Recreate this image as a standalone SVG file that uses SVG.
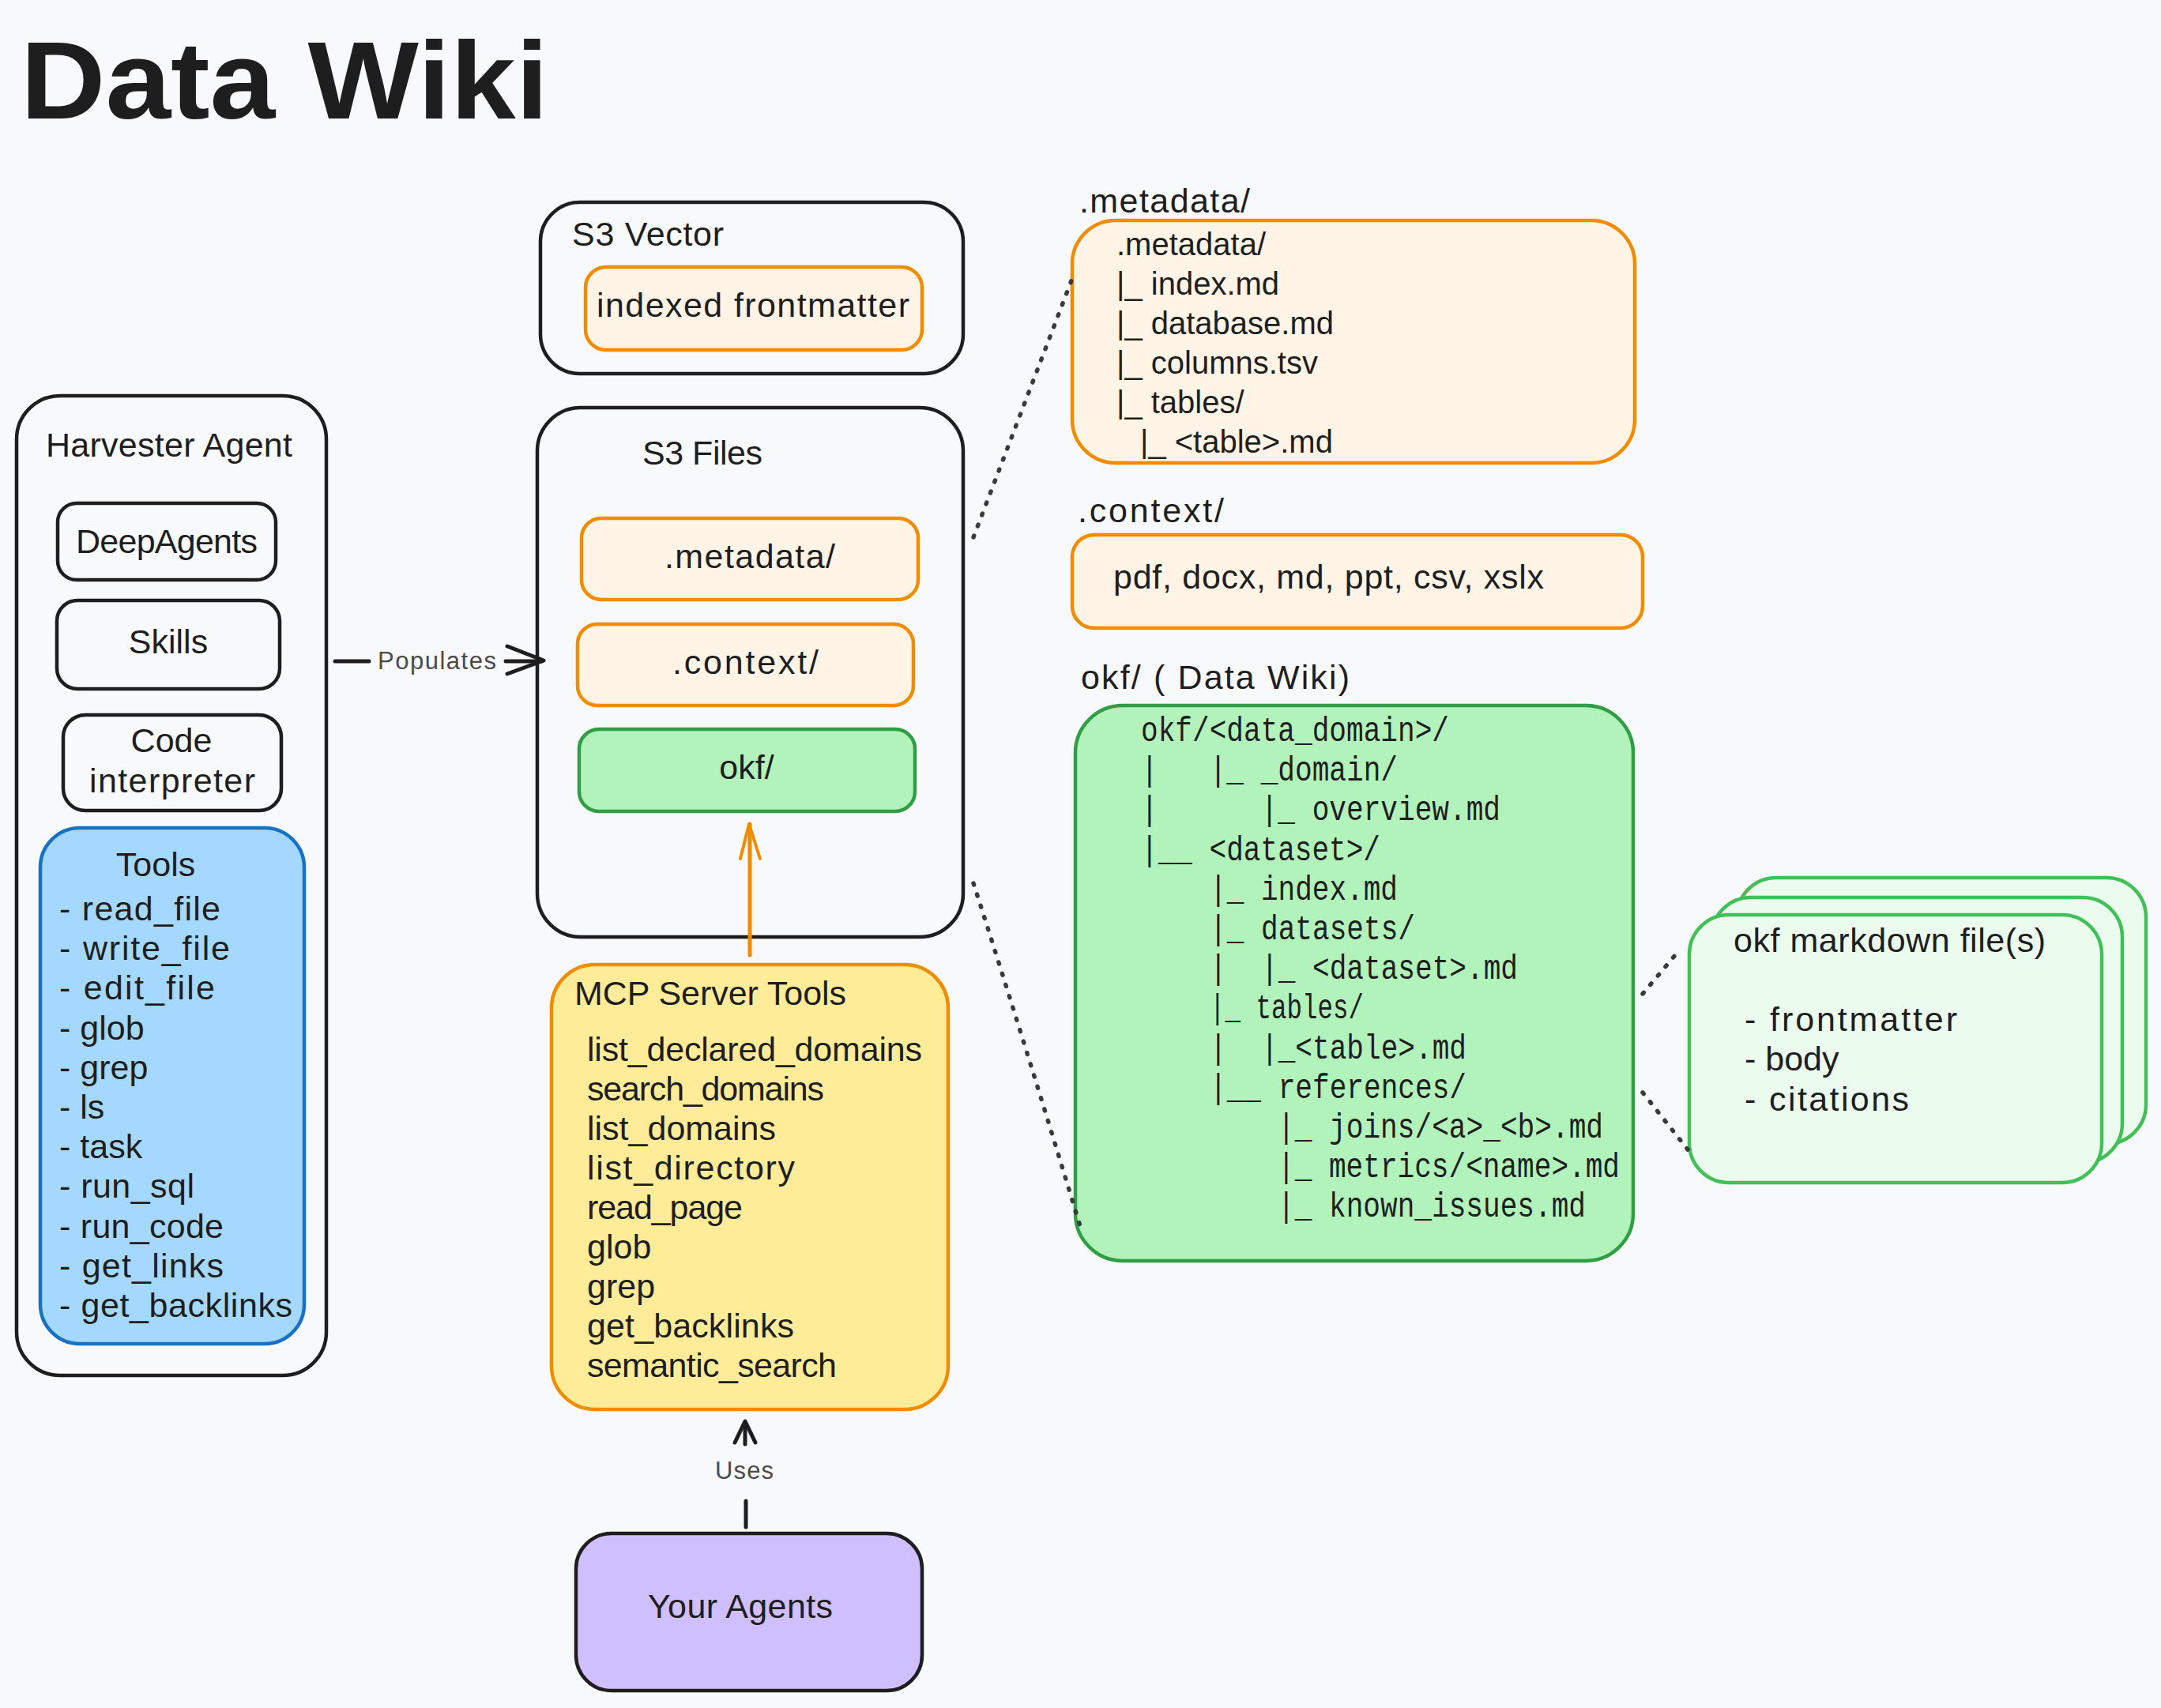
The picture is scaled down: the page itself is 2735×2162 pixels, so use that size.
<svg xmlns="http://www.w3.org/2000/svg" width="2735" height="2162" viewBox="0 0 2735 2162">
<style>
.hw{font-family:"Liberation Sans",Arial,sans-serif;font-size:43px;fill:#1e1e1e}
.lbl{font-family:"Liberation Sans",Arial,sans-serif;font-size:31px;fill:#4a4a4a}
.ns{font-family:"Liberation Sans",Arial,sans-serif;font-size:40px;fill:#1e1e1e}
.mono{font-family:"Liberation Mono","DejaVu Sans Mono",monospace;font-size:44px;fill:#1e1e1e}
.blk{fill:none;stroke:#1e1e1e;stroke-width:4.5}
.org{fill:#fff4e6;stroke:#f08c00;stroke-width:4.5}
.grn{fill:#b2f2bb;stroke:#2f9e44;stroke-width:4.5}
.lgrn{fill:#ebfbee;stroke:#40c057;stroke-width:4.5}
.dot{fill:none;stroke:#3a3a3a;stroke-width:5.5;stroke-linecap:round;stroke-dasharray:2 13}
.arr{fill:none;stroke:#1e1e1e;stroke-width:5;stroke-linecap:round;stroke-linejoin:round}
</style>
<rect x="0" y="0" width="2735" height="2162" fill="#f8f9fa"/>

<g id="title">
<text x="26" y="150" style="font-family:'Liberation Sans',Arial,sans-serif;font-size:140px;font-weight:bold;fill:#1e1e1e" textLength="668" lengthAdjust="spacingAndGlyphs">Data Wiki</text>
</g>

<g id="harvester-agent">
<rect class="blk" x="21" y="501" width="392" height="1240" rx="55"/>
<text class="hw" x="58" y="578" textLength="312">Harvester Agent</text>
</g>
<g id="deepagents">
<rect class="blk" x="73" y="637" width="276" height="97" rx="24"/>
<text class="hw" x="96" y="700" textLength="230">DeepAgents</text>
</g>
<g id="skills">
<rect class="blk" x="72" y="760" width="282" height="112" rx="26"/>
<text class="hw" x="213" y="827" text-anchor="middle">Skills</text>
</g>
<g id="code-interpreter">
<rect class="blk" x="80" y="905" width="276" height="121" rx="28"/>
<text class="hw" x="217" y="952" text-anchor="middle">Code</text>
<text class="hw" x="113" y="1003" textLength="210">interpreter</text>
</g>
<g id="tools">
<rect x="51" y="1048" width="334" height="653" rx="50" fill="#a5d8ff" stroke="#1971c2" stroke-width="4.5"/>
<text class="hw" x="197" y="1109" text-anchor="middle">Tools</text>
<text class="hw" x="75" y="1165" textLength="204">- read_file</text>
<text class="hw" x="75" y="1215" textLength="216">- write_file</text>
<text class="hw" x="75" y="1265" textLength="197">- edit_file</text>
<text class="hw" x="75" y="1316">- glob</text>
<text class="hw" x="75" y="1366">- grep</text>
<text class="hw" x="75" y="1416">- ls</text>
<text class="hw" x="75" y="1466">- task</text>
<text class="hw" x="75" y="1516" textLength="171">- run_sql</text>
<text class="hw" x="75" y="1567" textLength="208">- run_code</text>
<text class="hw" x="75" y="1617" textLength="208">- get_links</text>
<text class="hw" x="75" y="1667" textLength="295">- get_backlinks</text>
</g>

<g id="s3-vector">
<rect class="blk" x="684" y="256" width="535" height="217" rx="50"/>
<text class="hw" x="724" y="311" textLength="192">S3 Vector</text>
</g>
<g id="indexed-frontmatter">
<rect class="org" x="741" y="338" width="426" height="105" rx="26"/>
<text class="hw" x="755" y="401" textLength="396">indexed frontmatter</text>
</g>

<g id="s3-files">
<rect class="blk" x="680" y="516" width="539" height="670" rx="55"/>
<text class="hw" x="813" y="588" textLength="152">S3 Files</text>
</g>
<g id="s3-metadata">
<rect class="org" x="736" y="656" width="426" height="103" rx="25"/>
<text class="hw" x="841" y="719" textLength="216">.metadata/</text>
</g>
<g id="s3-context">
<rect class="org" x="731" y="790" width="425" height="103" rx="25"/>
<text class="hw" x="851" y="853" textLength="185">.context/</text>
</g>
<g id="s3-okf">
<rect class="grn" x="733" y="923" width="425" height="104" rx="25"/>
<text class="hw" x="945" y="986" text-anchor="middle">okf/</text>
</g>

<g id="mcp-server-tools">
<rect x="698" y="1221" width="502" height="563" rx="55" fill="#ffec99" stroke="#f08c00" stroke-width="4.5"/>
<text class="hw" x="727" y="1272" textLength="344">MCP Server Tools</text>
<text class="hw" x="743" y="1343" textLength="424">list_declared_domains</text>
<text class="hw" x="743" y="1393" textLength="300">search_domains</text>
<text class="hw" x="743" y="1443" textLength="239">list_domains</text>
<text class="hw" x="743" y="1493" textLength="263">list_directory</text>
<text class="hw" x="743" y="1543" textLength="197">read_page</text>
<text class="hw" x="743" y="1593">glob</text>
<text class="hw" x="743" y="1643">grep</text>
<text class="hw" x="743" y="1693" textLength="262">get_backlinks</text>
<text class="hw" x="743" y="1743" textLength="316">semantic_search</text>
</g>

<g id="your-agents">
<rect x="729" y="1941" width="438" height="199" rx="45" fill="#d0bfff" stroke="#1e1e1e" stroke-width="4.5"/>
<text class="hw" x="820" y="2048" textLength="234">Your Agents</text>
</g>

<g id="metadata-detail">
<text class="hw" x="1366" y="269" textLength="216">.metadata/</text>
<rect class="org" x="1357" y="279" width="712" height="307" rx="55"/>
<text class="ns" x="1413" y="323">.metadata/</text>
<text class="ns" x="1413" y="373">|_ index.md</text>
<text class="ns" x="1413" y="423">|_ database.md</text>
<text class="ns" x="1413" y="473">|_ columns.tsv</text>
<text class="ns" x="1413" y="523">|_ tables/</text>
<text class="ns" x="1443" y="573">|_ &lt;table&gt;.md</text>
</g>

<g id="context-detail">
<text class="hw" x="1364" y="661" textLength="185">.context/</text>
<rect class="org" x="1357" y="677" width="722" height="118" rx="28"/>
<text class="hw" x="1409" y="745" textLength="545">pdf, docx, md, ppt, csv, xslx</text>
</g>

<g id="okf-detail">
<text class="hw" x="1368" y="872" textLength="340">okf/ ( Data Wiki)</text>
<rect class="grn" x="1361" y="893" width="706" height="703" rx="60"/>
<text class="mono" xml:space="preserve" x="1444" y="938" lengthAdjust="spacingAndGlyphs" textLength="390">okf/&lt;data_domain&gt;/</text>
<text class="mono" xml:space="preserve" x="1444" y="988" lengthAdjust="spacingAndGlyphs" textLength="325">|   |_ _domain/</text>
<text class="mono" xml:space="preserve" x="1444" y="1038" lengthAdjust="spacingAndGlyphs" textLength="455">|      |_ overview.md</text>
<text class="mono" xml:space="preserve" x="1444" y="1089" lengthAdjust="spacingAndGlyphs" textLength="303">|__ &lt;dataset&gt;/</text>
<text class="mono" xml:space="preserve" x="1531" y="1139" lengthAdjust="spacingAndGlyphs" textLength="238">|_ index.md</text>
<text class="mono" xml:space="preserve" x="1531" y="1189" lengthAdjust="spacingAndGlyphs" textLength="260">|_ datasets/</text>
<text class="mono" xml:space="preserve" x="1531" y="1239" lengthAdjust="spacingAndGlyphs" textLength="390">|  |_ &lt;dataset&gt;.md</text>
<text class="mono" xml:space="preserve" x="1531" y="1289" lengthAdjust="spacingAndGlyphs" textLength="195">|_ tables/</text>
<text class="mono" xml:space="preserve" x="1531" y="1340" lengthAdjust="spacingAndGlyphs" textLength="325">|  |_&lt;table&gt;.md</text>
<text class="mono" xml:space="preserve" x="1531" y="1390" lengthAdjust="spacingAndGlyphs" textLength="325">|__ references/</text>
<text class="mono" xml:space="preserve" x="1617" y="1440" lengthAdjust="spacingAndGlyphs" textLength="412">|_ joins/&lt;a&gt;_&lt;b&gt;.md</text>
<text class="mono" xml:space="preserve" x="1617" y="1490" lengthAdjust="spacingAndGlyphs" textLength="433">|_ metrics/&lt;name&gt;.md</text>
<text class="mono" xml:space="preserve" x="1617" y="1540" lengthAdjust="spacingAndGlyphs" textLength="390">|_ known_issues.md</text>
</g>

<g id="okf-markdown-files">
<rect class="lgrn" x="2198" y="1111" width="518" height="337" rx="50"/>
<rect class="lgrn" x="2166" y="1136" width="520" height="336" rx="50"/>
<rect class="lgrn" x="2138" y="1158" width="522" height="339" rx="50"/>
<text class="hw" x="2194" y="1205" textLength="395">okf markdown file(s)</text>
<text class="hw" x="2208" y="1305" textLength="269">- frontmatter</text>
<text class="hw" x="2208" y="1355">- body</text>
<text class="hw" x="2208" y="1406" textLength="208">- citations</text>
</g>

<g id="connectors">
<g id="populates">
<line class="arr" x1="424" y1="837" x2="467" y2="837"/>
<line class="arr" x1="640" y1="837" x2="686" y2="837"/>
<polyline class="arr" points="642,818 688,836 642,853"/>
<text class="lbl" x="478" y="847" textLength="150">Populates</text>
</g>
<g id="mcp-to-okf">
<line x1="949" y1="1209" x2="949" y2="1043" stroke="#f08c00" stroke-width="5" stroke-linecap="round"/>
<polyline points="937,1087 948,1043 962,1087" fill="none" stroke="#f08c00" stroke-width="4" stroke-linecap="round" stroke-linejoin="round"/>
</g>
<g id="uses">
<line class="arr" x1="944" y1="1933" x2="944" y2="1900"/>
<line class="arr" x1="943" y1="1828" x2="943" y2="1800"/>
<polyline class="arr" points="930,1826 943,1799 956,1826"/>
<text class="lbl" x="905" y="1872" textLength="74">Uses</text>
</g>
<path class="dot" d="M1232,680 L1358,350"/>
<path class="dot" d="M1232,1118 Q1300,1330 1370,1562"/>
<path class="dot" d="M2079,1258 L2126,1202"/>
<path class="dot" d="M2079,1383 L2136,1455"/>
</g>
</svg>
